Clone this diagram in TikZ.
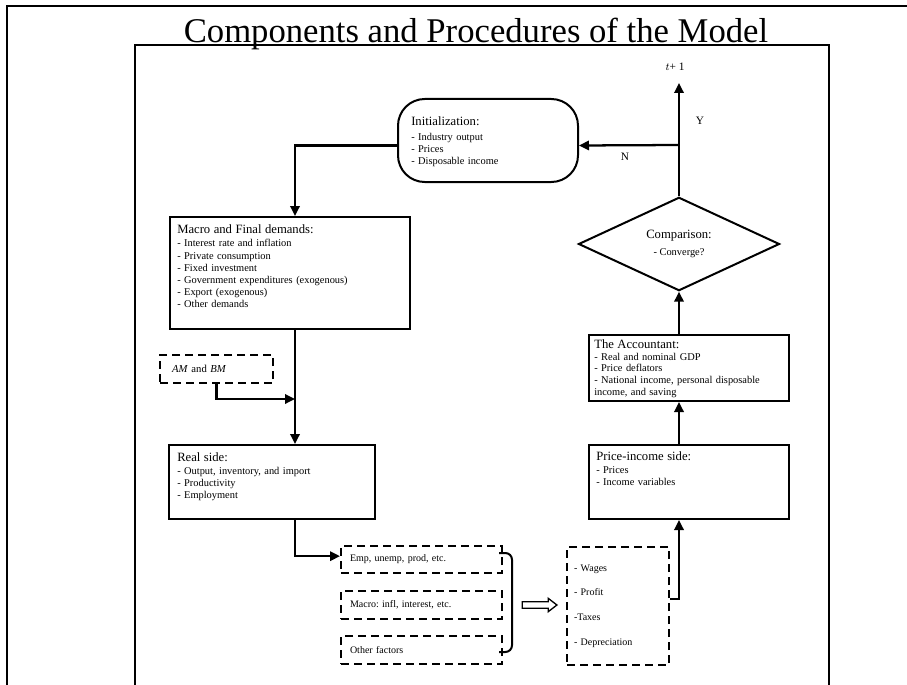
\documentclass[tikz,border=0pt]{standalone}
\usepackage{fontspec}
\setmainfont{Liberation Serif}
\usetikzlibrary{shapes.geometric, shapes.arrows, arrows.meta}
\frenchspacing
\tikzstyle{block} = [rectangle, draw, line width=1.5pt, anchor=north west, inner sep=0pt]
\tikzstyle{dashblock} = [rectangle, draw, line width=1.5pt, dash pattern=on 6pt off 3.75pt, anchor=north west, inner ysep=0pt, align=left, font=\fontsize{7.5}{9}\selectfont]
\tikzstyle{blocktext} = [anchor=base west, inner sep=0pt, align=left, font=\fontsize{7.8}{8.8}\selectfont]
\tikzstyle{arrow} = [line width=1.7pt, -{Triangle[length=7.5pt, width=7pt]}]
\tikzstyle{frame} = [line width=2.2pt]
\newcommand{\heading}[1]{{\fontsize{9.5}{10}\selectfont #1}}

\begin{document}
\begin{tikzpicture}[x=0.75pt, y=-0.75pt]
		\useasboundingbox (0,0) rectangle (907,685);

		%Frames and title
		\draw[frame] (7,685) -- (7,6) -- (907,6);
		\draw[line width=2pt] (135,685) -- (135,45) -- (829,45) -- (829,685);
		\node[anchor=base, inner sep=0pt, font=\fontsize{26}{28}\selectfont] (title) at (476,43) {Components and Procedures of the Model};

		%Left column
		\node[block, rounded corners=20pt, minimum width=135pt, minimum height=62.25pt] (init) at (397,98) {};
		\node[blocktext, text width=120pt] (init_txt) at (411,126) {\heading{Initialization:}\\[2.4pt]- Industry output\\- Prices\\- Disposable income};

		\node[block, minimum width=180pt, minimum height=84pt] (macro) at (169,216) {};
		\node[blocktext, text width=170pt, font=\fontsize{7.8}{9.15}\selectfont] (macro_txt) at (177,233) {\heading{Macro and Final demands:}\\[1.2pt]- Interest rate and inflation\\- Private consumption\\- Fixed investment\\- Government expenditures (exogenous)\\- Export (exogenous)\\- Other demands};

		\node[dashblock, minimum width=84.75pt, minimum height=21pt, inner xsep=9pt, text width=66.75pt, font=\fontsize{8}{9}\selectfont] (ambm) at (159,354) {\textit{AM} and \textit{BM}};

		\node[block, minimum width=154.5pt, minimum height=55.5pt] (real) at (168,444) {};
		\node[blocktext, text width=145pt, font=\fontsize{7.8}{8.9}\selectfont] (real_txt) at (177,461) {\heading{Real side:}\\[1.5pt]- Output, inventory, and import\\- Productivity\\- Employment};

		%Factors
		\node[dashblock, minimum width=120.75pt, minimum height=20.25pt, inner xsep=6.75pt, text width=107.25pt] (emp) at (340,545) {Emp, unemp, prod, etc.};
		\node[dashblock, minimum width=120.75pt, minimum height=21pt, inner xsep=6.75pt, text width=107.25pt] (macrof) at (340,590) {Macro: infl, interest, etc.};
		\node[dashblock, minimum width=120.75pt, minimum height=21pt, inner xsep=6.75pt, text width=107.25pt] (other) at (340,635) {Other factors};
		\draw[line width=1.5pt, rounded corners=5pt] (499,553) -| (512,652) -- (499,652);
		\node[single arrow, draw, line width=1pt, minimum height=26pt, single arrow head extend=2.6pt, single arrow tip angle=75, inner sep=1.9pt] (implies) at (537.5,605) {};

		\node[dashblock, minimum width=76.5pt, minimum height=88.5pt, inner xsep=5.25pt, text width=66pt, font=\fontsize{7.5}{18.5}\selectfont] (wages) at (566,546) {- Wages\\- Profit\\-Taxes\\- Depreciation};

		%Right column
		\node[block, minimum width=150pt, minimum height=55.5pt] (price) at (588,444) {};
		\node[blocktext, text width=140pt, font=\fontsize{7.8}{9.3}\selectfont] (price_txt) at (596,460) {\heading{Price-income side:}\\[0.8pt]- Prices\\- Income variables};

		\node[block, minimum width=150pt, minimum height=49.5pt] (acct) at (588,334) {};
		\node[blocktext, text width=140pt] (acct_txt) at (594,348) {\heading{The Accountant:}\\[0.3pt]- Real and nominal GDP\\- Price deflators\\- National income, personal disposable\\income, and saving};

		\node[diamond, draw, line width=1.5pt, minimum width=150.75pt, minimum height=68.25pt, inner sep=0pt, align=center, font=\fontsize{7.8}{13}\selectfont] (diamond) at (679,244) {\heading{Comparison:}\\- Converge?};

		\node[inner sep=0pt, font=\fontsize{8.5}{10}\selectfont] (tnext) at (675,67) {$t$+ 1};
		\coordinate (tip) at (679,83);
		\coordinate (spine) at (295,0);
		\coordinate (rspine) at (679,0);
		\coordinate (amjoin) at (295,399);

		%connections
		\draw[arrow] ([yshift=-3.75pt]init.west) -| (macro.north -| spine);
		\draw[arrow] (macro.south -| spine) -- (real.north -| spine);
		\draw[arrow] (ambm.south) |- (amjoin);
		\draw[arrow] (real.south -| spine) |- ([yshift=2.5pt]emp.west);
		\draw[arrow] (wages.east |- 0,599) -| (price.south -| rspine);
		\draw[arrow] (price.north -| rspine) -- (acct.south -| rspine);
		\draw[arrow] (acct.north -| rspine) -- (diamond.south);
		\draw[arrow] (diamond.north) -- (tip);
		\draw[arrow] (rspine |- 0,145) -- ([yshift=-3.75pt]init.east);
		\node[font=\fontsize{8.5}{10}\selectfont] (n_lbl) at (625,157) {N};
		\node[font=\fontsize{8.5}{10}\selectfont] (y_lbl) at (700,121) {Y};

	\end{tikzpicture}
\end{document}
